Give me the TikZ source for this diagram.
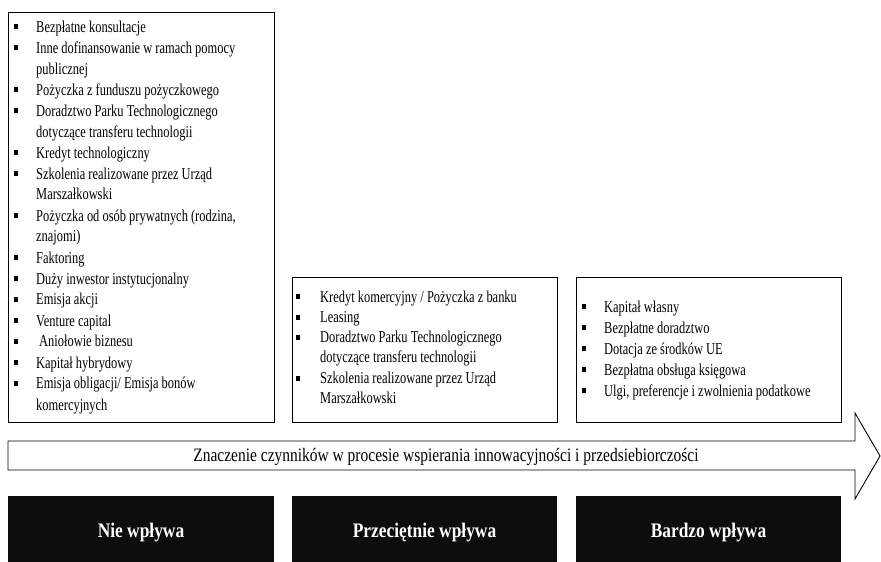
\documentclass[tikz,border=0pt]{standalone}
\usepackage{fontspec}
\setmainfont{Liberation Serif}[FakeStretch=0.75]
\newfontfamily\arrowfont{Liberation Serif}[FakeStretch=0.815]
\newfontfamily\labelfont{Liberation Serif}[FakeStretch=0.84]
\newcommand\blt{\rule[2.7pt]{3.3pt}{5pt}}
\definecolor{boxblack}{HTML}{0D0D0D}
\tikzset{
  listbox/.style={draw=black, line width=0.9pt, fill=white, inner sep=0pt, anchor=north west},
  listtext/.style={inner sep=0pt, anchor=base west, font=\fontsize{16.6}{21}\selectfont},
  blackbox/.style={fill=boxblack, draw=none, inner sep=0pt, anchor=north west, minimum width=266, minimum height=66},
  blacklabel/.style={inner sep=0pt, anchor=base, text=white, font=\labelfont\bfseries\fontsize{20.7}{24}\selectfont},
  arrowshape/.style={draw=black, line width=0.9pt, fill=white, line join=miter},
  arrowlabel/.style={inner sep=0pt, anchor=base, font=\arrowfont\fontsize{19}{22}\selectfont}
}
\begin{document}
\begin{tikzpicture}[x=1pt,y=-1pt]
\useasboundingbox (0,0) rectangle (881,562);
% list boxes
\node[listbox, minimum width=266, minimum height=410] (boxA) at (8,12) {};
\node[listbox, minimum width=265, minimum height=145] (boxB) at (292,277) {};
\node[listbox, minimum width=265, minimum height=145] (boxC) at (576,277) {};
% list texts
\node[listtext] (listA) at (14,32) {\begin{tabular}[t]{@{}p{22pt}@{}l@{}}
\blt & Bezpłatne konsultacje\\
\blt & Inne dofinansowanie w ramach pomocy\\
 & publicznej\\
\blt & Pożyczka z funduszu pożyczkowego\\
\blt & Doradztwo Parku Technologicznego\\
 & dotyczące transferu technologii\\
\blt & Kredyt technologiczny\\
\blt & Szkolenia realizowane przez Urząd\\
 & Marszałkowski\\
\blt & Pożyczka od osób prywatnych (rodzina,\\
 & znajomi)\\
\blt & Faktoring\\
\blt & Duży inwestor instytucjonalny\\
\blt & Emisja akcji\\
\blt & Venture capital\\
\blt & \hspace{3pt}Aniołowie biznesu\\
\blt & Kapitał hybrydowy\\
\blt & Emisja obligacji/ Emisja bonów\\
 & komercyjnych
\end{tabular}};
\node[listtext, font=\fontsize{16.6}{20.3}\selectfont] (listB) at (296,302) {\begin{tabular}[t]{@{}p{24pt}@{}l@{}}
\blt & Kredyt komercyjny / Pożyczka z banku\\
\blt & Leasing\\
\blt & Doradztwo Parku Technologicznego\\
 & dotyczące transferu technologii\\
\blt & Szkolenia realizowane przez Urząd\\
 & Marszałkowski
\end{tabular}};
\node[listtext] (listC) at (582,312) {\begin{tabular}[t]{@{}p{22pt}@{}l@{}}
\blt & Kapitał własny\\
\blt & Bezpłatne doradztwo\\
\blt & Dotacja ze środków UE\\
\blt & Bezpłatna obsługa księgowa\\
\blt & Ulgi, preferencje i zwolnienia podatkowe
\end{tabular}};
% arrow
\draw[arrowshape] (8,441) -- (855,441) -- (855,413) -- (880,456) -- (855,499) -- (855,470) -- (8,470) -- cycle;
\node[arrowlabel] (arrowtext) at (446,461) {Znaczenie czynników w procesie wspierania innowacyjności i przedsiebiorczości};
% black boxes
\node[blackbox] (nie) at (8,496) {};
\node[blackbox, minimum width=265] (prz) at (292,496) {};
\node[blackbox, minimum width=265] (bar) at (576,496) {};
\node[blacklabel] (nieL) at (141,537) {Nie wpływa};
\node[blacklabel] (przL) at (424.5,537) {Przeciętnie wpływa};
\node[blacklabel] (barL) at (708.5,537) {Bardzo wpływa};
\end{tikzpicture}
\end{document}
